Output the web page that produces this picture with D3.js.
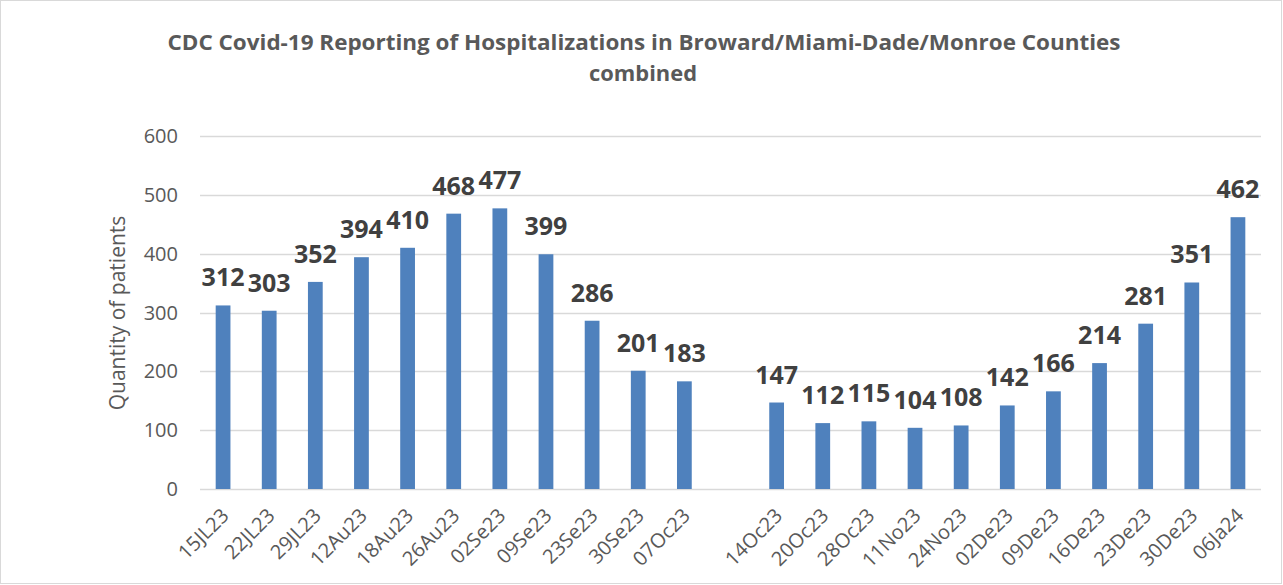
<!DOCTYPE html>
<html>
<head>
  <meta charset="utf-8">
  <title>CDC Covid-19 hospitalizations</title>
  <script src="https://d3js.org/d3.v7.min.js"></script>
  <style>
    html, body { margin: 0; padding: 0; background: #fff; }
    svg { display: block; font-family: "Open Sans", sans-serif; }
    .grid line { stroke: #d9d9d9; stroke-width: 1.3; }
    .bar { fill: #4f81bd; }
    .tick-label { fill: #595959; font-size: 20px; }
    .val { fill: #404040; font-size: 25px; font-weight: bold; }
    .title { fill: #595959; font-weight: bold; }
  </style>
</head>
<body>
  <svg width="1283" height="585"></svg>
  <script>
    // week labels; the empty one is the blank slot between 07Oc23 and 14Oc23
    const weeks = ["15JL23", "22JL23", "29JL23", "12Au23", "18Au23", "26Au23", "02Se23", "09Se23",
      "23Se23", "30Se23", "07Oc23", "", "14Oc23", "20Oc23", "28Oc23", "11No23", "24No23",
      "02De23", "09De23", "16De23", "23De23", "30De23", "06Ja24"];
    const patients = [312, 303, 352, 394, 410, 468, 477, 399, 286, 201, 183, null,
      147, 112, 115, 104, 108, 142, 166, 214, 281, 351, 462];
    const yTicks = [0, 100, 200, 300, 400, 500, 600];

    const svg = d3.select("svg");
    const plotL = 200, plotR = 1261, plotT = 136, plotB = 489;

    // outer frame
    svg.append("rect")
      .attr("x", 0.5).attr("y", 0.5)
      .attr("width", 1281).attr("height", 583)
      .attr("fill", "none").attr("stroke", "#d9d9d9");

    const x = d3.scaleBand()
      .domain(d3.range(weeks.length))
      .range([plotL, plotR])
      .paddingInner(0.68)
      .paddingOuter(0.34);

    const y = d3.scaleLinear().domain([0, 600]).range([plotB, plotT]);

    // gridlines
    const grid = svg.append("g").attr("class", "grid");
    grid.selectAll("line")
      .data(yTicks)
      .join("line")
      .attr("x1", plotL).attr("x2", plotR)
      .attr("y1", d => Math.round(y(d)) + 0.5)
      .attr("y2", d => Math.round(y(d)) + 0.5);

    // y tick labels
    svg.append("g").selectAll("text")
      .data(yTicks)
      .join("text")
      .attr("class", "tick-label")
      .attr("x", 178)
      .attr("y", d => y(d))
      .attr("dy", "0.35em")
      .attr("text-anchor", "end")
      .text(d => d);

    // y axis title
    svg.append("text")
      .attr("class", "tick-label")
      .attr("transform", `translate(125,313) rotate(-90)`)
      .attr("text-anchor", "middle")
      .style("font-size", "21px")
      .text("Quantity of patients");

    const rows = weeks.map((w, i) => ({ i, w, v: patients[i] }));
    const withVal = rows.filter(d => d.v != null);

    svg.append("g").selectAll("rect")
      .data(withVal)
      .join("rect")
      .attr("class", "bar")
      .attr("x", d => x(d.i))
      .attr("width", x.bandwidth())
      .attr("y", d => y(d.v))
      .attr("height", d => plotB - y(d.v));

    // value labels
    svg.append("g").selectAll("text")
      .data(withVal)
      .join("text")
      .attr("class", "val")
      .attr("x", d => x(d.i) + x.bandwidth() / 2)
      .attr("y", d => y(d.v) - 19)
      .attr("text-anchor", "middle")
      .text(d => d.v);

    // category labels
    svg.append("g").selectAll("text")
      .data(rows.filter(d => d.w !== ""))
      .join("text")
      .attr("class", "tick-label")
      .attr("text-anchor", "end")
      .attr("transform", d => `translate(${x(d.i) + x.bandwidth() / 2 + 7},517) rotate(-45)`)
      .text(d => d.w);

    // title
    const title = svg.append("g").attr("class", "title");
    title.append("text")
      .attr("x", 644).attr("y", 50)
      .attr("text-anchor", "middle")
      .style("font-size", "21px")
      .attr("textLength", 953)
      .attr("lengthAdjust", "spacingAndGlyphs")
      .text("CDC Covid-19 Reporting of Hospitalizations in Broward/Miami-Dade/Monroe Counties");
    title.append("text")
      .attr("x", 643).attr("y", 81)
      .attr("text-anchor", "middle")
      .style("font-size", "21px")
      .attr("textLength", 108)
      .attr("lengthAdjust", "spacingAndGlyphs")
      .text("combined");
  </script>
</body>
</html>
